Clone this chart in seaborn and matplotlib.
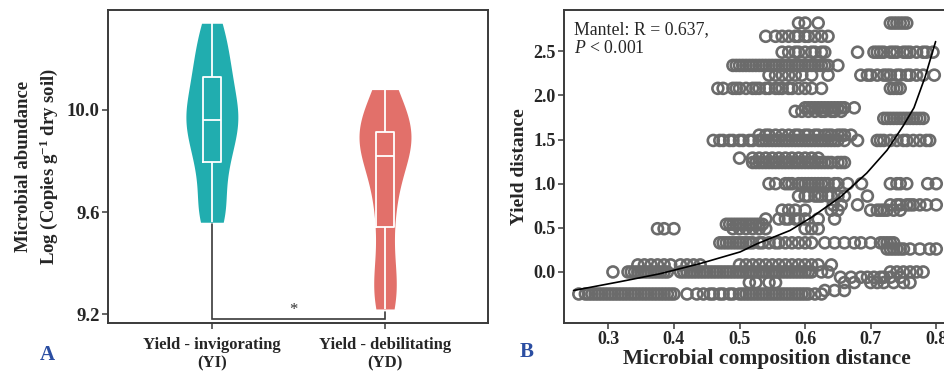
import numpy as np
import pandas as pd
import matplotlib
matplotlib.use("Agg")
import matplotlib.pyplot as plt
import seaborn as sns

# ---------------- data: panel A ----------------
groups = ["Yield - invigorating\n(YI)", "Yield - debilitating\n(YD)"]
yi_values = [9.56, 9.58, 9.62, 9.70, 9.78, 9.80, 9.85, 9.90, 9.93, 9.95,
             9.97, 10.00, 10.03, 10.06, 10.12, 10.15, 10.18, 10.24, 10.30, 10.34]
yd_values = [9.22, 9.26, 9.30, 9.36, 9.45, 9.57, 9.62, 9.70, 9.76, 9.80,
             9.84, 9.86, 9.88, 9.90, 9.91, 9.93, 9.96, 10.00, 10.04, 10.08]
group_colors = ["#21ADAF", "#E2706A"]
yticks_a = [9.2, 9.6, 10.0]
sig_label = "*"

# ---------------- data: panel B ----------------
x_2_82 = [0.59, 0.60, 0.62, 0.73, 0.735, 0.74, 0.745, 0.75, 0.755]
x_2_67 = [0.54, 0.555, 0.565, 0.575, 0.585, 0.59, 0.60, 0.605, 0.615, 0.625, 0.635]
x_2_49 = [0.565, 0.575, 0.585, 0.59, 0.60, 0.61, 0.615, 0.625, 0.63, 0.68, 0.705, 0.71,
          0.715, 0.72, 0.73, 0.735, 0.74, 0.75, 0.755, 0.76, 0.77, 0.78, 0.785, 0.795]
x_2_34 = [0.49, 0.495, 0.50, 0.505, 0.51, 0.515, 0.52, 0.525, 0.53, 0.535, 0.54, 0.545,
          0.55, 0.555, 0.56, 0.565, 0.57, 0.575, 0.58, 0.585, 0.59, 0.595, 0.60, 0.605,
          0.61, 0.615, 0.62, 0.625, 0.63, 0.635, 0.65]
x_2_23 = [0.545, 0.555, 0.565, 0.575, 0.585, 0.595, 0.61, 0.635, 0.685, 0.695, 0.70, 0.71,
          0.72, 0.725, 0.73, 0.74, 0.745, 0.755, 0.76, 0.77, 0.78, 0.797]
x_2_08 = [0.467, 0.475, 0.49, 0.495, 0.50, 0.51, 0.52, 0.525, 0.53, 0.54, 0.545, 0.555,
          0.56, 0.565, 0.575, 0.58, 0.59, 0.60, 0.61, 0.625, 0.73, 0.735, 0.74, 0.745]
x_1_86 = [0.60, 0.605, 0.61, 0.615, 0.62, 0.625, 0.63, 0.635, 0.64, 0.645, 0.65, 0.655,
          0.66, 0.675]
x_1_82 = [0.585, 0.595, 0.605, 0.615, 0.625, 0.63, 0.64, 0.645, 0.655]
x_1_74 = [0.72, 0.725, 0.73, 0.735, 0.74, 0.745, 0.75, 0.755, 0.76, 0.765, 0.77, 0.775, 0.78]
x_1_55 = [0.53, 0.54, 0.545, 0.555, 0.565, 0.575, 0.585, 0.59, 0.60, 0.605, 0.615, 0.62,
          0.63, 0.635, 0.64, 0.65, 0.655, 0.66, 0.67]
x_1_49 = [0.46, 0.47, 0.475, 0.485, 0.49, 0.50, 0.505, 0.515, 0.52, 0.53, 0.535, 0.54,
          0.545, 0.55, 0.555, 0.56, 0.565, 0.57, 0.575, 0.58, 0.585, 0.59, 0.595, 0.60,
          0.605, 0.61, 0.615, 0.62, 0.625, 0.63, 0.635, 0.64, 0.645, 0.65, 0.66, 0.68,
          0.71, 0.715, 0.72, 0.73, 0.74, 0.75, 0.755, 0.765, 0.775, 0.785, 0.79]
x_1_29 = [0.50, 0.52, 0.53, 0.54, 0.55, 0.56, 0.57, 0.58, 0.59, 0.60, 0.61, 0.62]
x_1_24 = [0.52, 0.525, 0.53, 0.535, 0.54, 0.545, 0.55, 0.555, 0.56, 0.565, 0.57, 0.575,
          0.58, 0.585, 0.59, 0.595, 0.60, 0.605, 0.61, 0.615, 0.62, 0.625, 0.63, 0.635,
          0.64, 0.65, 0.655, 0.66]
x_1_00 = [0.545, 0.555, 0.57, 0.575, 0.58, 0.59, 0.595, 0.60, 0.605, 0.61, 0.615, 0.62,
          0.625, 0.63, 0.635, 0.645, 0.65, 0.665, 0.686, 0.73, 0.74, 0.745, 0.755, 0.787, 0.80]
x_0_86 = [0.59, 0.60, 0.605, 0.615, 0.62, 0.625, 0.635, 0.64, 0.65, 0.66, 0.695]
x_0_76 = [0.643, 0.655, 0.68, 0.73, 0.74, 0.745, 0.755, 0.76, 0.765, 0.775, 0.785, 0.80]
x_0_70 = [0.565, 0.575, 0.585, 0.60, 0.64, 0.65, 0.70, 0.71, 0.715, 0.72, 0.725, 0.735, 0.745]
x_0_60 = [0.54, 0.56, 0.57, 0.575, 0.585, 0.59, 0.60, 0.62, 0.645]
x_0_54 = [0.48, 0.485, 0.49, 0.495, 0.50, 0.505, 0.51, 0.515, 0.52, 0.525, 0.53, 0.535]
x_0_49 = [0.375, 0.385, 0.40, 0.49, 0.50, 0.51, 0.52, 0.53, 0.54, 0.60, 0.61, 0.62]
x_0_33 = [0.47, 0.475, 0.48, 0.485, 0.49, 0.495, 0.50, 0.505, 0.51, 0.515, 0.52, 0.53,
          0.535, 0.545, 0.555, 0.56, 0.57, 0.58, 0.59, 0.60, 0.61, 0.63, 0.645, 0.66,
          0.675, 0.685, 0.70, 0.715, 0.72, 0.725, 0.73, 0.735]
x_0_26 = [0.725, 0.73, 0.735, 0.74, 0.745, 0.75, 0.76, 0.775, 0.79, 0.80]
x_0_08 = [0.345, 0.355, 0.365, 0.375, 0.385, 0.395, 0.41, 0.42, 0.43, 0.44, 0.50, 0.51,
          0.52, 0.53, 0.54, 0.55, 0.56, 0.57, 0.58, 0.59, 0.60, 0.61, 0.62, 0.64]
x_0_00 = [0.307, 0.33, 0.335, 0.34, 0.345, 0.35, 0.355, 0.36, 0.365, 0.37, 0.375, 0.38,
          0.385, 0.39, 0.41, 0.415, 0.42, 0.425, 0.43, 0.435, 0.44, 0.445, 0.45, 0.455,
          0.46, 0.465, 0.47, 0.475, 0.48, 0.485, 0.49, 0.495, 0.50, 0.505, 0.51, 0.515,
          0.52, 0.525, 0.53, 0.535, 0.54, 0.545, 0.55, 0.555, 0.56, 0.565, 0.57, 0.575,
          0.58, 0.585, 0.59, 0.595, 0.60, 0.605, 0.61, 0.625, 0.635, 0.73, 0.74, 0.75,
          0.76, 0.77, 0.78]
x_m0_06 = [0.654, 0.67, 0.685, 0.695, 0.705, 0.715, 0.72, 0.73, 0.745]
x_m0_12 = [0.515, 0.525, 0.545, 0.555, 0.66, 0.675, 0.70, 0.71, 0.72, 0.735, 0.75, 0.76]
x_m0_21 = [0.63, 0.645, 0.66]
x_m0_25 = [0.255, 0.265, 0.27, 0.275, 0.28, 0.285, 0.29, 0.295, 0.30, 0.305, 0.31, 0.315,
           0.32, 0.325, 0.33, 0.335, 0.34, 0.345, 0.35, 0.355, 0.36, 0.365, 0.37, 0.375,
           0.38, 0.385, 0.39, 0.395, 0.40, 0.42, 0.435, 0.445, 0.455, 0.46, 0.47, 0.475,
           0.485, 0.49, 0.50, 0.505, 0.51, 0.515, 0.52, 0.525, 0.53, 0.535, 0.54, 0.545,
           0.55, 0.555, 0.56, 0.565, 0.57, 0.575, 0.58, 0.585, 0.59, 0.595, 0.60, 0.605,
           0.615, 0.625]

yield_levels = [2.82, 2.67, 2.49, 2.34, 2.23, 2.08, 1.86, 1.82, 1.74, 1.55, 1.49, 1.29,
                1.24, 1.00, 0.86, 0.76, 0.70, 0.60, 0.54, 0.49, 0.33, 0.26, 0.08, 0.00,
                -0.06, -0.12, -0.21, -0.25]
composition_rows = [x_2_82, x_2_67, x_2_49, x_2_34, x_2_23, x_2_08, x_1_86, x_1_82, x_1_74,
                    x_1_55, x_1_49, x_1_29, x_1_24, x_1_00, x_0_86, x_0_76, x_0_70, x_0_60,
                    x_0_54, x_0_49, x_0_33, x_0_26, x_0_08, x_0_00, x_m0_06, x_m0_12,
                    x_m0_21, x_m0_25]

# fitted curve
curve_x = [0.247, 0.318, 0.379, 0.440, 0.501, 0.527, 0.577, 0.610, 0.654, 0.694,
           0.725, 0.750, 0.766, 0.783, 0.799]
curve_y = [-0.21, -0.11, -0.02, 0.095, 0.227, 0.32, 0.47, 0.62, 0.85, 1.12,
           1.38, 1.66, 1.86, 2.21, 2.61]
xticks_b = [0.3, 0.4, 0.5, 0.6, 0.7, 0.8]
yticks_b = [0.0, 0.5, 1.0, 1.5, 2.0, 2.5]

# ---------------- style ----------------
sns.set_theme(style="white")
plt.rcParams["font.family"] = ["Liberation Serif", "DejaVu Serif"]
plt.rcParams["mathtext.fontset"] = "custom"
plt.rcParams["mathtext.rm"] = "Liberation Serif"
plt.rcParams["mathtext.it"] = "Liberation Serif:italic"
plt.rcParams["mathtext.bf"] = "Liberation Serif:bold"

spine_col = "#3a3a3a"
fig = plt.figure(figsize=(9.45, 3.74), dpi=100)
axA = fig.add_axes([108 / 945, 1 - 323 / 374, (488 - 108) / 945, (323 - 10) / 374])
axB = fig.add_axes([564 / 945, 1 - 322.7 / 374, (952 - 564) / 945, (322.7 - 10) / 374])

# ---------- panel A ----------
dfA = pd.DataFrame({
    "group": [groups[0]] * len(yi_values) + [groups[1]] * len(yd_values),
    "value": yi_values + yd_values,
})
sns.violinplot(data=dfA, x="group", y="value", hue="group", order=groups,
               hue_order=groups, palette=group_colors, inner=None, cut=0,
               linewidth=0, width=0.30, bw_adjust=0.75, density_norm="width",
               legend=False, ax=axA, saturation=1)
sns.boxplot(data=dfA, x="group", y="value", order=groups, width=0.105,
            whis=(0, 100), showcaps=False, fill=False, color="white",
            linewidth=1.3, showfliers=False, ax=axA)
for line in axA.lines:
    line.set_color("white")

# significance bracket
axA.plot([0, 0, 1, 1], [9.555, 9.182, 9.182, 9.21], color="#3a3a3a", lw=1.2,
         solid_joinstyle="miter", zorder=1)
axA.text(0.47, 9.185, sig_label, ha="center", va="bottom", fontsize=12, color="#333333")

axA.set_xlim(-0.6, 1.595)
axA.set_ylim(9.165, 10.392)
axA.set_yticks(yticks_a)
axA.set_yticklabels([f"{v:.1f}" for v in yticks_a], fontsize=13.5, fontweight="bold")
axA.set_xticks([0, 1])
axA.set_xticklabels(groups, fontsize=12, fontweight="bold", linespacing=1.2)
axA.set_xlabel("")
axA.set_ylabel("Microbial abundance\nLog (Copies g$^{\\mathbf{-1}}$ dry soil)",
               fontsize=13.5, fontweight="bold", linespacing=1.3, labelpad=5)

# ---------- panel B ----------
bx = []
by = []
for lvl, xs in zip(yield_levels, composition_rows):
    bx.extend(xs)
    by.extend([lvl] * len(xs))
dfB = pd.DataFrame({"composition": bx, "yield": by})
sns.scatterplot(data=dfB, x="composition", y="yield", ax=axB, marker="o",
                s=62, facecolor="none", edgecolor="#6b6b6b", linewidth=1.9, zorder=2)
dfC = pd.DataFrame({"x": curve_x, "y": curve_y})
sns.lineplot(data=dfC, x="x", y="y", ax=axB, color="black", lw=1.2, zorder=3)

axB.set_xlim(0.2324, 0.824)
axB.set_ylim(-0.575, 2.968)
axB.set_xticks(xticks_b)
axB.set_xticklabels([f"{v:.1f}" for v in xticks_b], fontsize=13, fontweight="bold")
axB.set_yticks(yticks_b)
axB.set_yticklabels([f"{v:.1f}" for v in yticks_b], fontsize=13, fontweight="bold")
axB.set_xlabel("Microbial composition distance", fontsize=15.5, fontweight="bold", labelpad=1)
axB.xaxis.set_label_coords(0.523, -0.085)
axB.xaxis.label.set_va("top")
axB.set_ylabel("Yield distance", fontsize=14, fontweight="bold", labelpad=4)
axB.text(0.025, 0.965, "Mantel: R = 0.637,\n$P$ < 0.001", transform=axB.transAxes,
         ha="left", va="top", fontsize=12.8, linespacing=1.15)

for ax in (axA, axB):
    for sp in ax.spines.values():
        sp.set_color(spine_col)
        sp.set_linewidth(1.4)
    ax.tick_params(axis="both", which="major", direction="out", length=4,
                   width=1.1, color=spine_col, left=True, bottom=True)
axA.tick_params(axis="y", pad=2)
axA.tick_params(axis="x", pad=6)
axB.tick_params(axis="both", pad=2)

fig.text(47 / 945, 1 - 355 / 374, "A", fontsize=15, fontweight="bold",
         color="#2B4EA2", ha="center", va="center")
fig.text(527 / 945, 1 - 352 / 374, "B", fontsize=15, fontweight="bold",
         color="#2B4EA2", ha="center", va="center")

fig.savefig("out.png", dpi=100)
